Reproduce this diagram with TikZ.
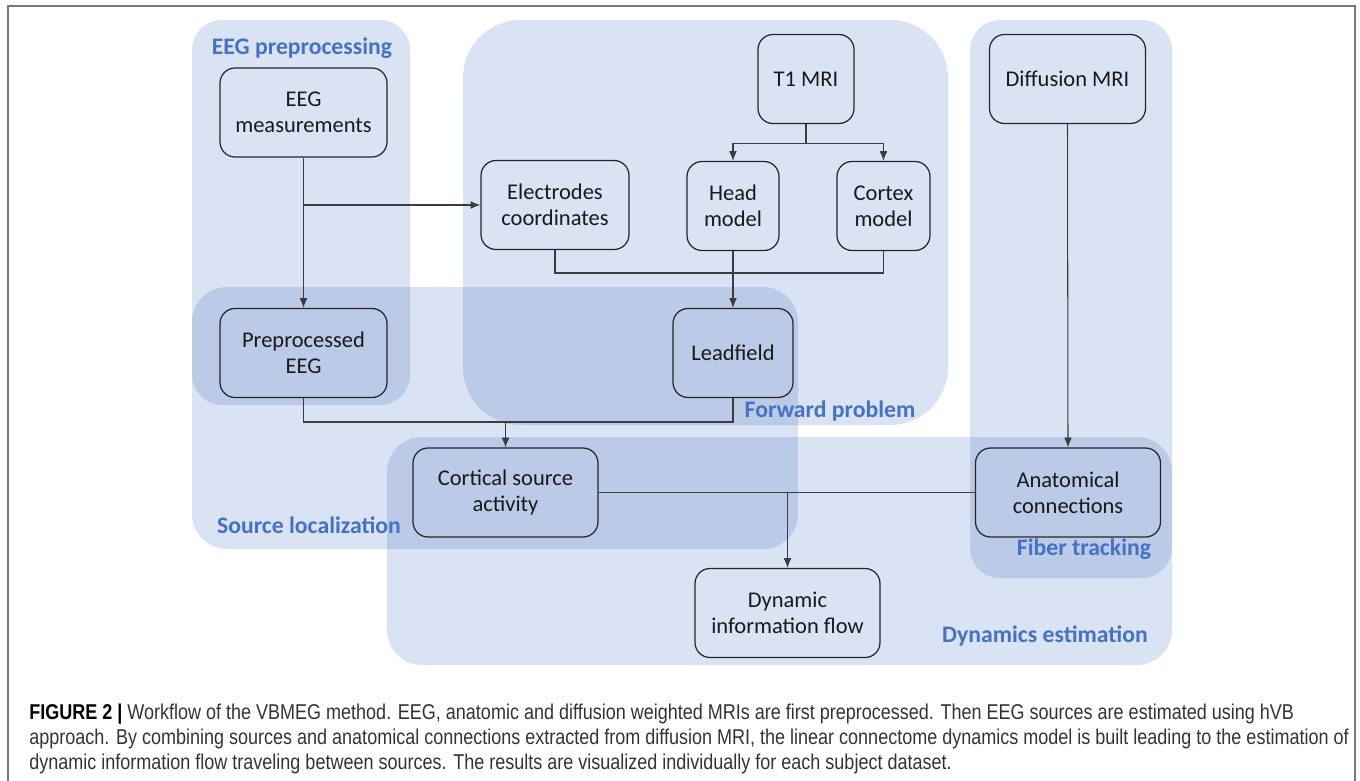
\documentclass[tikz,border=0pt]{standalone}
\usepackage{fontspec}
\setmainfont{Carlito}
\newfontfamily\capfont[FakeStretch=0.84]{Liberation Sans}
\usetikzlibrary{positioning,arrows.meta}

\definecolor{regfill}{RGB}{218,227,243}
\definecolor{regtext}{RGB}{68,114,196}
\definecolor{linegray}{RGB}{60,60,60}
\definecolor{framegray}{RGB}{120,120,120}

\tikzset{
  region/.style={fill=regfill},
  reglabel/.style={text=regtext, font=\fontsize{13.5}{16}\selectfont\bfseries, inner sep=0pt},
  stepbox/.style={draw=black!85, line width=0.7pt, rounded corners=0.3cm, align=center,
    minimum height=1.78cm, inner sep=0pt, text=black!90,
    font=\fontsize{12.8}{14.6}\selectfont},
  link/.style={draw=linegray, line width=0.6pt},
  tip/.style={-{Latex[length=5.5pt,width=4.4pt]}},
  captext/.style={anchor=base west, inner sep=0pt, text=black!80,
    font=\capfont\fontsize{12.2}{14}\selectfont}
}

\begin{document}
\begin{tikzpicture}[x=0.02cm,y=-0.02cm]
	\useasboundingbox (0,0) rectangle (1360,781);
	\draw[framegray, line width=1pt] (8,790) -- (8,6) -- (1355,6) -- (1355,790);

	% shaded stages
	\begin{scope}[blend group=multiply]
		\fill[region, rounded corners=0.6cm] (192,20) rectangle (410,405);
		\fill[region, rounded corners=1.15cm] (463,20) rectangle (948,425);
		\fill[region, rounded corners=0.7cm] (192,287) rectangle (798,549);
		\fill[region, rounded corners=0.6cm] (970,20) rectangle (1172,578);
		\fill[region, rounded corners=0.7cm] (387,437) rectangle (1172,665);
	\end{scope}

	\node[reglabel] (lprep) at (302,48) {EEG preprocessing};
	\node[reglabel] (lfwd) at (830,411) {Forward problem};
	\node[reglabel] (lsrc) at (309,525) {Source localization};
	\node[reglabel] (lfib) at (1084,549) {Fiber tracking};
	\node[reglabel] (ldyn) at (1045,636) {Dynamics estimation};

	% steps
	\node[stepbox, minimum width=3.34cm] (meas) at (303.5,112.5) {EEG\\measurements};
	\node[stepbox, minimum width=1.92cm] (tone) at (806,79) {T1 MRI};
	\node[stepbox, minimum width=3.12cm] (diff) at (1067.5,79) {Diffusion MRI};
	\node[stepbox, minimum width=2.96cm] (elec) at (555,205) {Electrodes\\coordinates};
	\node[stepbox, minimum width=1.84cm] (head) at (733,206) {Head\\model};
	\node[stepbox, minimum width=1.86cm] (cortex) at (883.5,206) {Cortex\\model};
	\node[stepbox, minimum width=3.34cm] (prep) at (303.5,353) {Preprocessed\\EEG};
	\node[stepbox, minimum width=2.40cm] (lead) at (733,353) {Leadfield};
	\node[stepbox, minimum width=3.70cm] (cortical) at (505.5,492.5) {Cortical source\\activity};
	\node[stepbox, minimum width=3.70cm] (anat) at (1068,492.5) {Anatomical\\connections};
	\node[stepbox, minimum width=3.70cm] (dyninfo) at (787.5,613) {Dynamic\\information flow};

	% links
	\draw[link, tip] (meas.south) -- (prep.north);
	\draw[link, tip] (meas.south |- elec.west) -- (elec.west);
	\path (tone.south) ++(0,19) coordinate (tsplit);
	\draw[link] (tone.south) -- (tsplit);
	\draw[link, tip] (tsplit) -| (head.north);
	\draw[link, tip] (tsplit) -| (cortex.north);
	\coordinate (fjoin) at (733,273);
	\draw[link] (elec.south) |- (fjoin) -| (cortex.south);
	\draw[link, tip] (head.south) -- (lead.north);
	\coordinate (sjoin) at (505.5,422);
	\draw[link] (prep.south) |- (sjoin) -| (lead.south);
	\draw[link, tip] (sjoin) -- (cortical.north);
	\draw[link] (cortical.east) -- (anat.west);
	\draw[link, tip] (cortical.east -| dyninfo.north) -- (dyninfo.north);
	\draw[link, tip] (diff.south) -- (anat.north);

	% caption
	\node[captext] (cap1) at (29,719) {\textbf{\color{black}FIGURE 2 |} Workflow of the VBMEG method. EEG, anatomic and diffusion weighted MRIs are first preprocessed. Then EEG sources are estimated using hVB};
	\node[captext] (cap2) at (29,744) {approach. By combining sources and anatomical connections extracted from diffusion MRI, the linear connectome dynamics model is built leading to the estimation of};
	\node[captext] (cap3) at (29,769) {dynamic information flow traveling between sources. The results are visualized individually for each subject dataset.};
\end{tikzpicture}
\end{document}
